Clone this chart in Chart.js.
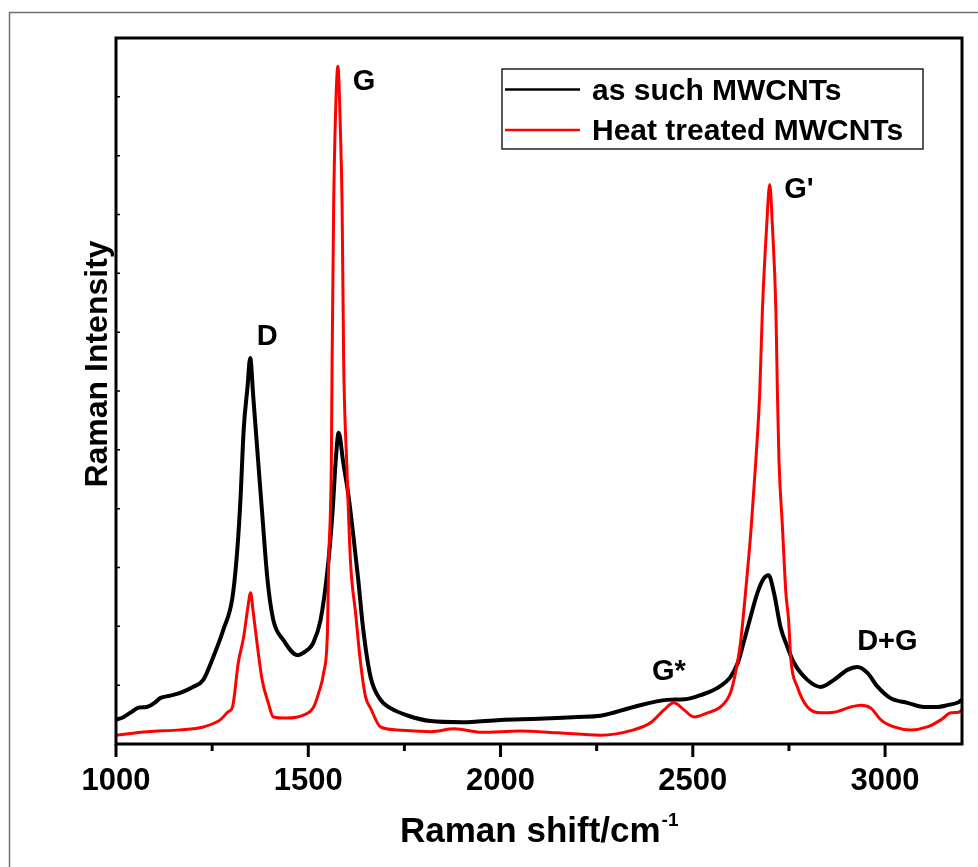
<!DOCTYPE html>
<html>
<head>
<meta charset="utf-8">
<title>Raman spectra of MWCNTs</title>
<script src="https://cdn.jsdelivr.net/npm/chart.js@4.4.1/dist/chart.umd.min.js"></script>
<style>
    html, body { margin: 0; padding: 0; background: #fff; }
    canvas { display: block; }
</style>
</head>
<body>
<canvas id="ramanChart" width="978" height="867"></canvas>
<script>
// spectra, intensity in arbitrary units (axis runs 0..12)
var shiftAsSuch = [1000, 1020, 1037, 1060, 1080, 1100, 1115, 1140, 1167, 1200,
    1227, 1253, 1279, 1303, 1316, 1324, 1332, 1342, 1349, 1357,
    1370, 1380, 1394, 1409, 1435, 1472, 1498, 1513, 1532, 1550,
    1563, 1571, 1579, 1591, 1604, 1617, 1630, 1643, 1662, 1688,
    1714, 1760, 1818, 1900, 2000, 2100, 2200, 2260, 2346, 2433,
    2480, 2520, 2563, 2598, 2617, 2632, 2650, 2668, 2685, 2697,
    2711, 2728, 2746, 2763, 2798, 2833, 2867, 2902, 2928, 2954,
    2981, 3014, 3058, 3101, 3137, 3162, 3191, 3200];
var intensityAsSuch = [0.41, 0.46, 0.53, 0.62, 0.63, 0.70, 0.78, 0.82, 0.87, 0.97,
    1.09, 1.48, 1.94, 2.50, 3.35, 4.20, 5.34, 6.07, 6.56, 5.90,
    4.78, 3.93, 2.79, 2.11, 1.77, 1.51, 1.60, 1.72, 2.11, 2.96,
    3.93, 4.78, 5.29, 4.78, 4.25, 3.55, 2.79, 1.94, 1.14, 0.75,
    0.61, 0.48, 0.39, 0.37, 0.41, 0.43, 0.46, 0.48, 0.63, 0.75,
    0.76, 0.83, 0.95, 1.14, 1.38, 1.72, 2.16, 2.57, 2.82, 2.87,
    2.57, 1.99, 1.65, 1.38, 1.09, 0.97, 1.09, 1.26, 1.31, 1.21,
    0.97, 0.78, 0.70, 0.63, 0.63, 0.66, 0.71, 0.75];

var shiftHeated = [1000, 1081, 1167, 1227, 1271, 1292, 1303, 1318, 1332, 1342,
    1350, 1357, 1368, 1380, 1396, 1409, 1445, 1487, 1514, 1527,
    1540, 1550, 1553, 1560, 1562, 1566, 1571, 1577, 1584, 1588,
    1592, 1600, 1610, 1623, 1636, 1649, 1662, 1688, 1731, 1818,
    1880, 1950, 2050, 2150, 2260, 2346, 2390, 2425, 2451, 2477,
    2503, 2538, 2572, 2598, 2611, 2624, 2637, 2652, 2664, 2674,
    2681, 2692, 2700, 2707, 2716, 2720, 2724, 2733, 2742, 2749,
    2755, 2772, 2798, 2833, 2867, 2911, 2937, 2963, 2989, 3023,
    3067, 3110, 3145, 3171, 3191, 3200];
var intensityHeated = [0.15, 0.21, 0.24, 0.29, 0.41, 0.55, 0.63, 1.38, 1.82, 2.28,
    2.57, 2.23, 1.65, 1.09, 0.70, 0.46, 0.44, 0.49, 0.63, 0.87,
    1.21, 1.94, 3.08, 4.78, 6.53, 9.14, 10.73, 11.52, 10.33, 9.14,
    6.53, 4.78, 3.08, 2.23, 1.38, 0.80, 0.61, 0.29, 0.24, 0.21,
    0.26, 0.20, 0.22, 0.19, 0.15, 0.24, 0.36, 0.58, 0.70, 0.58,
    0.46, 0.53, 0.63, 0.87, 1.21, 1.72, 2.57, 3.70, 4.83, 5.97,
    7.38, 8.80, 9.51, 8.80, 7.38, 5.97, 4.83, 3.70, 2.57, 2.11,
    1.43, 0.97, 0.63, 0.53, 0.54, 0.63, 0.66, 0.61, 0.41, 0.29,
    0.24, 0.29, 0.41, 0.53, 0.54, 0.58];

var seriesNames = ['as such MWCNTs', 'Heat treated MWCNTs'];
var xTickLabels = [1000, 1500, 2000, 2500, 3000];
var xMinorStep = 250;

// peak names and where they sit (data units)
var peakNames = ['D', 'G', "G'", 'G*', 'D+G'];
var peakNameShift = [1393, 1645, 2776, 2438, 3006];
var peakNameIntensity = [6.96, 11.29, 9.45, 1.26, 1.77];

var xTitle = 'Raman shift/cm';
var xTitleSup = '-1';
var yTitle = 'Raman Intensity';

var FONT = '"Liberation Sans", Arial, Helvetica, sans-serif';

function toPoints(xs, ys) {
    return xs.map(function (x, i) {
        return {x: x, y: ys[i]};
    });
}

var decorations = {
    id: 'decorations',
    beforeDraw: function (chart) {
        var c = chart.ctx;
        c.save();
        c.fillStyle = '#fff';
        c.fillRect(0, 0, chart.width, chart.height);
        // outer frame of the figure (only left/top are visible)
        c.strokeStyle = '#707070';
        c.lineWidth = 1.5;
        c.beginPath();
        c.moveTo(9.5, chart.height);
        c.lineTo(9.5, 12.5);
        c.lineTo(chart.width, 12.5);
        c.stroke();
        c.restore();
    },
    afterDraw: function (chart) {
        var c = chart.ctx;
        var a = chart.chartArea;
        var xs = chart.scales.x, ys = chart.scales.y;
        c.save();

        // plot frame
        c.strokeStyle = '#000';
        c.lineWidth = 3;
        c.strokeRect(a.left, a.top, a.right - a.left, a.bottom - a.top);

        // x ticks, outside, minor ones shorter
        c.lineWidth = 3;
        c.beginPath();
        for (var v = xs.min; v <= xs.max; v += xMinorStep) {
            var px = xs.getPixelForValue(v);
            var len = (v % 500 === 0) ? 13 : 7;
            c.moveTo(px, a.bottom);
            c.lineTo(px, a.bottom + len);
        }
        c.stroke();

        // small inside ticks on the left axis
        c.lineWidth = 1.5;
        c.beginPath();
        for (var t = ys.min + 1; t < ys.max; t++) {
            var py = ys.getPixelForValue(t);
            c.moveTo(a.left, py);
            c.lineTo(a.left + 4, py);
        }
        c.stroke();

        c.fillStyle = '#000';

        // peak names
        c.font = 'bold 29px ' + FONT;
        c.textAlign = 'center';
        c.textBaseline = 'alphabetic';
        peakNames.forEach(function (name, i) {
            var x = xs.getPixelForValue(peakNameShift[i]);
            var y = ys.getPixelForValue(peakNameIntensity[i]);
            c.fillText(name, x, y + 29 * 0.36);
        });

        // x title with superscript
        c.textAlign = 'left';
        c.font = 'bold 35px ' + FONT;
        c.fillText(xTitle, 400, 842);
        var w = c.measureText(xTitle).width;
        c.font = 'bold 19px ' + FONT;
        c.fillText(xTitleSup, 400 + w + 1, 826);

        // y title
        c.save();
        c.translate(107, 364);
        c.rotate(-Math.PI / 2);
        c.textAlign = 'center';
        c.font = 'bold 32px ' + FONT;
        c.fillText(yTitle, 0, 0);
        c.restore();

        // legend box
        c.lineWidth = 1.5;
        c.strokeStyle = '#222';
        c.strokeRect(502, 69, 421, 80);
        var rows = [89.5, 130];
        chart.data.datasets.forEach(function (ds, i) {
            c.strokeStyle = ds.borderColor;
            c.lineWidth = 2.5;
            c.beginPath();
            c.moveTo(505, rows[i]);
            c.lineTo(580, rows[i]);
            c.stroke();
            c.font = 'bold 30px ' + FONT;
            c.textAlign = 'left';
            c.fillStyle = '#000';
            c.fillText(ds.label, 592, rows[i] + 10);
        });

        c.restore();
    }
};

var ctx = document.getElementById('ramanChart').getContext('2d');
var chart = new Chart(ctx, {
    // The type of chart we want to create
    type: 'line',

    // The data for our dataset
    data: {
        datasets: [{
            label: seriesNames[0],
            data: toPoints(shiftAsSuch, intensityAsSuch),
            borderColor: '#000000',
            borderWidth: 4,
            order: 2
        }, {
            label: seriesNames[1],
            data: toPoints(shiftHeated, intensityHeated),
            borderColor: '#ff0000',
            borderWidth: 3,
            order: 1
        }]
    },

    // Configuration options go here
    options: {
        responsive: false,
        devicePixelRatio: 1,
        animation: false,
        parsing: false,
        layout: {
            padding: {left: 116, top: 38, right: 16, bottom: 0}
        },
        elements: {
            point: {radius: 0},
            line: {cubicInterpolationMode: 'monotone', fill: false, borderJoinStyle: 'round'}
        },
        plugins: {
            legend: {display: false},
            tooltip: {enabled: false}
        },
        scales: {
            x: {
                type: 'linear',
                min: 1000,
                max: 3200,
                grid: {display: false, drawTicks: false},
                border: {display: false},
                afterBuildTicks: function (scale) {
                    scale.ticks = xTickLabels.map(function (v) {
                        return {value: v};
                    });
                },
                afterFit: function (scale) {
                    scale.height = 123;
                },
                ticks: {
                    color: '#000',
                    padding: 19,
                    maxRotation: 0,
                    font: {family: FONT, size: 31, weight: 'bold'},
                    callback: function (value) {
                        return value;
                    }
                }
            },
            y: {
                type: 'linear',
                min: 0,
                max: 12,
                display: false
            }
        }
    },
    plugins: [decorations]
});
</script>
</body>
</html>
